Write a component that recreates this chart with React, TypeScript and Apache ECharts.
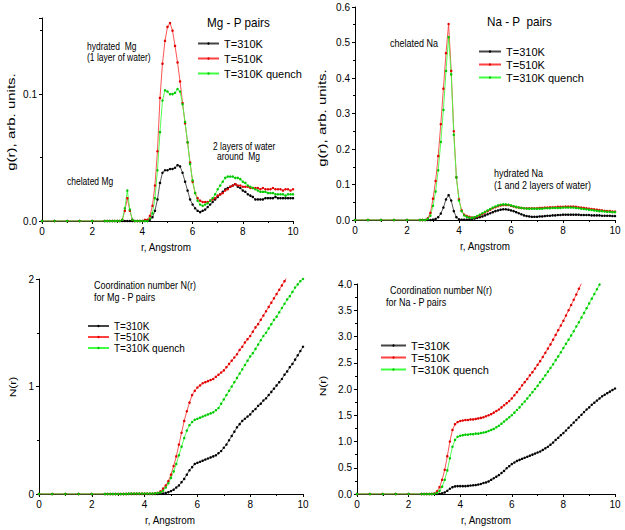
import React, { useEffect, useRef } from "react";
import * as echarts from "echarts";

// r grid (Angstrom)
const R = [
  0, 0.5, 1, 1.5, 2, 2.5,
  2.6, 2.7, 2.8, 2.9, 3.0, 3.1, 3.2, 3.3, 3.4, 3.5,
  3.6, 3.7, 3.8, 3.9, 4.0, 4.1, 4.2, 4.3, 4.4, 4.5,
  4.6, 4.7, 4.8, 4.9, 5.0, 5.1, 5.2, 5.3, 5.4, 5.5,
  5.6, 5.7, 5.8, 5.9, 6.0, 6.1, 6.2, 6.3, 6.4, 6.5,
  6.6, 6.7, 6.8, 6.9, 7.0, 7.1, 7.2, 7.3, 7.4, 7.5,
  7.6, 7.7, 7.8, 7.9, 8.0, 8.1, 8.2, 8.3, 8.4, 8.5,
  8.6, 8.7, 8.8, 8.9, 9.0, 9.1, 9.2, 9.3, 9.4, 9.5,
  9.6, 9.7, 9.8, 9.9, 10.0,
];

const NAMES = ["T=310K", "T=510K", "T=310K quench"];

// Mg - P g(r)
const MG_G_310 = [
  0, 0, 0, 0, 0, 0,
  0, 0, 0, 0, 0, 0, 0, 0, 0, 0,
  0, 0, 0, 0, 0, 0, 0, 0.001, 0.003, 0.008,
  0.017, 0.030, 0.038, 0.040, 0.040, 0.041, 0.041, 0.042, 0.044, 0.043,
  0.038, 0.031, 0.024, 0.017, 0.013, 0.010, 0.008, 0.007, 0.008, 0.009,
  0.011, 0.013, 0.015, 0.017, 0.019, 0.021, 0.023, 0.025, 0.026, 0.027,
  0.028, 0.029, 0.027, 0.026, 0.024, 0.023, 0.021, 0.020, 0.019, 0.017,
  0.017, 0.017, 0.017, 0.018, 0.018, 0.018, 0.018, 0.019, 0.018, 0.018,
  0.018, 0.018, 0.018, 0.018, 0.018,
];
const MG_G_510 = [
  0, 0, 0, 0, 0, 0,
  0, 0, 0, 0, 0, 0, 0.001, 0.008, 0.018, 0.008,
  0.001, 0, 0, 0, 0, 0.001, 0.001, 0.004, 0.012, 0.028,
  0.055, 0.097, 0.124, 0.142, 0.153, 0.156, 0.150, 0.138, 0.125, 0.110,
  0.093, 0.077, 0.062, 0.046, 0.031, 0.022, 0.018, 0.016, 0.015, 0.015,
  0.015, 0.016, 0.017, 0.018, 0.020, 0.021, 0.022, 0.024, 0.025, 0.027,
  0.028, 0.029, 0.028, 0.028, 0.027, 0.027, 0.027, 0.026, 0.026, 0.026,
  0.026, 0.025, 0.026, 0.025, 0.025, 0.025, 0.026, 0.025, 0.025, 0.025,
  0.024, 0.025, 0.025, 0.024, 0.025,
];
const MG_G_Q = [
  0, 0, 0, 0, 0, 0,
  0, 0, 0, 0, 0, 0, 0.001, 0.010, 0.024, 0.009,
  0.001, 0, 0, 0, 0, 0, 0, 0.002, 0.006, 0.018,
  0.040, 0.070, 0.095, 0.103, 0.102, 0.100, 0.100, 0.101, 0.104, 0.102,
  0.092, 0.078, 0.062, 0.045, 0.032, 0.022, 0.016, 0.013, 0.012, 0.013,
  0.014, 0.016, 0.018, 0.021, 0.025, 0.028, 0.031, 0.034, 0.035, 0.035,
  0.035, 0.034, 0.034, 0.033, 0.031, 0.030, 0.028, 0.027, 0.026, 0.025,
  0.024, 0.023, 0.023, 0.023, 0.022, 0.022, 0.022, 0.021, 0.021, 0.021,
  0.021, 0.020, 0.021, 0.021, 0.021,
];

// Na - P g(r)
const NA_G_310 = [
  0, 0, 0, 0, 0, 0,
  0, 0, 0, 0, 0.001, 0.003, 0.008, 0.018, 0.035, 0.058,
  0.070, 0.055, 0.025, 0.008, 0.002, 0.001, 0.001, 0.001, 0.002, 0.003,
  0.004, 0.006, 0.008, 0.010, 0.013, 0.016, 0.019, 0.022, 0.025, 0.027,
  0.029, 0.030, 0.030, 0.029, 0.027, 0.025, 0.022, 0.019, 0.016, 0.013,
  0.011, 0.010, 0.009, 0.009, 0.009, 0.010, 0.010, 0.011, 0.012, 0.012,
  0.013, 0.013, 0.014, 0.014, 0.015, 0.015, 0.015, 0.015, 0.015, 0.015,
  0.015, 0.014, 0.014, 0.014, 0.014, 0.013, 0.013, 0.013, 0.013, 0.012,
  0.012, 0.012, 0.012, 0.011, 0.011,
];
const NA_G_510 = [
  0, 0, 0, 0, 0, 0,
  0, 0, 0.005, 0.02, 0.06, 0.11, 0.18, 0.27, 0.37, 0.47,
  0.552, 0.42, 0.25, 0.12, 0.058, 0.027, 0.015, 0.011, 0.009, 0.007,
  0.008, 0.010, 0.013, 0.017, 0.021, 0.025, 0.029, 0.033, 0.036, 0.039,
  0.041, 0.042, 0.042, 0.042, 0.040, 0.038, 0.036, 0.035, 0.034, 0.033,
  0.033, 0.033, 0.033, 0.033, 0.033, 0.034, 0.034, 0.035, 0.035, 0.036,
  0.036, 0.036, 0.037, 0.037, 0.037, 0.038, 0.038, 0.038, 0.038, 0.037,
  0.036, 0.035, 0.034, 0.033, 0.032, 0.031, 0.030, 0.029, 0.028, 0.027,
  0.026, 0.025, 0.025, 0.024, 0.024,
];
const NA_G_Q = [
  0, 0, 0, 0, 0, 0,
  0, 0, 0.003, 0.012, 0.04, 0.08, 0.14, 0.22, 0.31, 0.42,
  0.515, 0.41, 0.24, 0.12, 0.055, 0.025, 0.013, 0.009, 0.007, 0.006,
  0.008, 0.011, 0.015, 0.019, 0.023, 0.027, 0.031, 0.035, 0.038, 0.041,
  0.043, 0.044, 0.044, 0.043, 0.041, 0.039, 0.037, 0.035, 0.034, 0.033,
  0.032, 0.032, 0.032, 0.032, 0.032, 0.032, 0.032, 0.033, 0.033, 0.033,
  0.034, 0.034, 0.034, 0.034, 0.035, 0.035, 0.035, 0.035, 0.035, 0.034,
  0.033, 0.032, 0.031, 0.030, 0.029, 0.028, 0.027, 0.026, 0.025, 0.025,
  0.024, 0.023, 0.023, 0.022, 0.022,
];

// Mg - P coordination number N(r)
const MG_N_310 = [
  0, 0, 0, 0, 0, 0,
  0, 0, 0, 0, 0, 0, 0, 0, 0, 0,
  0, 0, 0, 0, 0, 0, 0, 0, 0, 0.001,
  0.002, 0.005, 0.01, 0.017, 0.027, 0.04, 0.06, 0.08, 0.11, 0.14,
  0.18, 0.22, 0.25, 0.28, 0.29, 0.30, 0.31, 0.32, 0.33, 0.34,
  0.35, 0.36, 0.38, 0.40, 0.43, 0.46, 0.50, 0.54, 0.58, 0.62,
  0.65, 0.68, 0.70, 0.72, 0.74, 0.77, 0.79, 0.82, 0.84, 0.87,
  0.89, 0.92, 0.95, 0.98, 1.01, 1.04, 1.07, 1.11, 1.14, 1.18,
  1.21, 1.25, 1.29, 1.33, 1.37,
];
const MG_N_510 = [
  0, 0, 0, 0, 0, 0,
  0, 0, 0, 0, 0, 0, 0, 0.001, 0.002, 0.003,
  0.003, 0.003, 0.003, 0.003, 0.003, 0.003, 0.003, 0.004, 0.006, 0.010,
  0.025, 0.05, 0.08, 0.12, 0.18, 0.26, 0.35, 0.46, 0.57, 0.68,
  0.77, 0.85, 0.92, 0.96, 0.99, 1.01, 1.03, 1.04, 1.05, 1.06,
  1.07, 1.09, 1.11, 1.13, 1.15, 1.18, 1.21, 1.24, 1.27, 1.30,
  1.34, 1.37, 1.41, 1.44, 1.47, 1.51, 1.55, 1.58, 1.62, 1.66,
  1.70, 1.74, 1.78, 1.82, 1.86, 1.90, 1.94, 1.98, 2.02,
];
const MG_N_Q = [
  0, 0, 0, 0, 0, 0,
  0, 0, 0, 0, 0, 0, 0, 0.001, 0.003, 0.004,
  0.004, 0.004, 0.004, 0.004, 0.004, 0.004, 0.004, 0.005, 0.006, 0.009,
  0.015, 0.03, 0.06, 0.10, 0.15, 0.21, 0.28, 0.36, 0.44, 0.52,
  0.59, 0.64, 0.67, 0.69, 0.70, 0.71, 0.72, 0.73, 0.74, 0.75,
  0.76, 0.78, 0.80, 0.84, 0.88, 0.92, 0.96, 1.00, 1.04, 1.08,
  1.12, 1.16, 1.20, 1.24, 1.28, 1.31, 1.35, 1.39, 1.43, 1.47,
  1.50, 1.54, 1.58, 1.62, 1.65, 1.69, 1.73, 1.77, 1.81, 1.84,
  1.88, 1.92, 1.95, 1.98, 2.00,
];

// Na - P coordination number N(r)
const NA_N_310 = [
  0, 0, 0, 0, 0, 0,
  0, 0, 0, 0, 0.001, 0.002, 0.005, 0.012, 0.03, 0.06,
  0.10, 0.13, 0.145, 0.15, 0.15, 0.15, 0.15, 0.155, 0.16, 0.165,
  0.17, 0.18, 0.19, 0.21, 0.22, 0.24, 0.27, 0.30, 0.33, 0.36,
  0.40, 0.44, 0.49, 0.53, 0.57, 0.60, 0.63, 0.65, 0.67, 0.69,
  0.71, 0.73, 0.75, 0.77, 0.79, 0.81, 0.84, 0.87, 0.90, 0.94,
  0.98, 1.03, 1.07, 1.12, 1.16, 1.21, 1.26, 1.31, 1.36, 1.41,
  1.46, 1.51, 1.56, 1.61, 1.65, 1.70, 1.74, 1.78, 1.82, 1.86,
  1.89, 1.92, 1.95, 1.98, 2.01,
];
const NA_N_510 = [
  0, 0, 0, 0, 0, 0,
  0, 0, 0, 0.002, 0.01, 0.05, 0.13, 0.27, 0.46, 0.72,
  1.00, 1.22, 1.33, 1.37, 1.39, 1.40, 1.41, 1.41, 1.42, 1.42,
  1.43, 1.44, 1.45, 1.46, 1.48, 1.50, 1.52, 1.55, 1.58, 1.61,
  1.65, 1.69, 1.73, 1.77, 1.82, 1.88, 1.94, 2.00, 2.07, 2.13,
  2.19, 2.26, 2.32, 2.39, 2.46, 2.53, 2.61, 2.69, 2.77, 2.85,
  2.94, 3.03, 3.12, 3.21, 3.30, 3.40, 3.50, 3.60, 3.70, 3.80,
  3.91, 4.01,
];
const NA_N_Q = [
  0, 0, 0, 0, 0, 0,
  0, 0, 0, 0.001, 0.005, 0.02, 0.06, 0.14, 0.27, 0.45,
  0.68, 0.90, 1.03, 1.09, 1.11, 1.12, 1.13, 1.13, 1.14, 1.14,
  1.15, 1.15, 1.16, 1.17, 1.18, 1.20, 1.22, 1.24, 1.27, 1.30,
  1.34, 1.38, 1.42, 1.46, 1.50, 1.55, 1.60, 1.65, 1.71, 1.76,
  1.82, 1.88, 1.94, 2.00, 2.06, 2.13, 2.19, 2.26, 2.33, 2.40,
  2.47, 2.55, 2.62, 2.70, 2.78, 2.86, 2.94, 3.02, 3.10, 3.19,
  3.27, 3.36, 3.45, 3.54, 3.63, 3.72, 3.81, 3.90, 3.99,
];

const FONT = '"Liberation Sans", Arial, Helvetica, sans-serif';

const STYLES = [
  { line: "#444444", dot: "#000000" },
  { line: "#ff4040", dot: "#e00000" },
  { line: "#40ff40", dot: "#00c800" },
];

function makeSeries(panel: number, ys: number[][]) {
  return ys.map((y, k) => ({
    name: NAMES[k],
    type: "line",
    xAxisIndex: panel,
    yAxisIndex: panel,
    data: y.map((v, i) => [R[i], v]),
    symbol: "circle",
    symbolSize: 2.5,
    showSymbol: true,
    clip: true,
    lineStyle: { color: STYLES[k].line, width: 0.9 },
    itemStyle: { color: STYLES[k].dot, borderWidth: 0 },
    emphasis: { disabled: true },
  }));
}

function xAxis(idx: number) {
  return {
    type: "value",
    gridIndex: idx,
    min: 0,
    max: 10,
    interval: 2,
    axisLine: { lineStyle: { color: "#000", width: 1 } },
    axisTick: { length: 3, lineStyle: { color: "#000" } },
    minorTick: { show: true, splitNumber: 2, length: 2, lineStyle: { color: "#000" } },
    splitLine: { show: false },
    minorSplitLine: { show: false },
    axisLabel: { fontSize: 10, color: "#000", fontFamily: FONT, margin: 5 },
  };
}

function yAxis(idx: number, max: number, interval: number, digits: number) {
  return {
    type: "value",
    gridIndex: idx,
    min: 0,
    max,
    interval,
    axisLine: { show: true, lineStyle: { color: "#000", width: 1 } },
    axisTick: { show: true, length: 3, lineStyle: { color: "#000" } },
    minorTick: { show: true, splitNumber: 2, length: 2, lineStyle: { color: "#000" } },
    splitLine: { show: false },
    minorSplitLine: { show: false },
    axisLabel: {
      fontSize: 10,
      color: "#000",
      fontFamily: FONT,
      margin: 5,
      formatter: (v: number) => {
        const q = v / interval;
        if (Math.abs(q - Math.round(q)) > 1e-6) return "";
        return v.toFixed(digits);
      },
    },
  };
}

function txt(text: string, x: number, y: number, size: number, sx = 1, align = "left") {
  return {
    type: "text",
    x,
    y,
    scaleX: sx,
    silent: true,
    style: {
      text,
      fill: "#000",
      font: `${size}px ${FONT}`,
      align,
      verticalAlign: "middle",
    },
  };
}

function vtxt(text: string, x: number, y: number, size: number, sy = 1) {
  return {
    type: "text",
    x,
    y,
    rotation: Math.PI / 2,
    scaleY: sy,
    silent: true,
    style: {
      text,
      fill: "#000",
      font: `${size}px ${FONT}`,
      align: "center",
      verticalAlign: "middle",
    },
  };
}

function legend(left: number, top: number, itemWidth: number, fontSize: number, gap: number) {
  return {
    orient: "vertical",
    left,
    top,
    padding: 0,
    itemWidth,
    itemHeight: 3,
    itemGap: gap,
    selectedMode: false,
    data: NAMES,
    textStyle: { fontSize, fontFamily: FONT, color: "#000" },
  };
}

export default function App() {
  const ref = useRef<HTMLDivElement>(null);
  useEffect(() => {
    if (!ref.current) return;
    const chart = echarts.init(ref.current, undefined, { renderer: "svg" });
    const option = {
      animation: false,
      backgroundColor: "#fff",
      grid: [
        { left: 42, top: 18, width: 251, height: 203 },
        { left: 355, top: 7, width: 260, height: 213 },
        { left: 39, top: 279, width: 264, height: 215 },
        { left: 357, top: 284, width: 258, height: 210 },
      ],
      xAxis: [xAxis(0), xAxis(1), xAxis(2), xAxis(3)],
      yAxis: [
        yAxis(0, 0.16, 0.1, 1),
        yAxis(1, 0.6, 0.1, 1),
        yAxis(2, 2, 1, 0),
        yAxis(3, 4, 0.5, 1),
      ],
      legend: [
        legend(197, 38, 21, 11, 4),
        legend(478, 46, 22, 11, 2),
        legend(87, 321, 21, 10, 1),
        legend(380, 340, 25, 11, 1),
      ],
      series: [
        ...makeSeries(0, [MG_G_310, MG_G_510, MG_G_Q]),
        ...makeSeries(1, [NA_G_310, NA_G_510, NA_G_Q]),
        ...makeSeries(2, [MG_N_310, MG_N_510, MG_N_Q]),
        ...makeSeries(3, [NA_N_310, NA_N_510, NA_N_Q]),
      ],
      graphic: [
        // panel 1
        txt("Mg - P pairs", 207, 23, 13, 0.9),
        txt("hydrated  Mg", 87, 47, 10, 0.85),
        txt("(1 layer of water)", 87, 58, 10, 0.85),
        txt("chelated Mg", 67, 182, 10, 0.85),
        txt("2 layers of water", 213, 147, 10, 0.85),
        txt("around  Mg", 217, 157, 10, 0.85),
        vtxt("g(r), arb. units.", 11, 122, 15, 0.7),
        txt("r, Angstrom", 166, 247, 11, 0.9, "center"),
        // panel 2
        txt("Na - P  pairs", 487, 22, 13, 0.9),
        txt("chelated Na", 390, 43, 10, 0.9),
        txt("hydrated Na", 494, 173, 10, 0.9),
        txt("(1 and 2 layers of water)", 494, 185, 10, 0.9),
        vtxt("g(r), arb. units.", 322, 118, 15, 0.7),
        txt("r, Angstrom", 485, 246, 11, 0.9, "center"),
        // panel 3
        txt("Coordination number N(r)", 94, 285, 10, 0.9),
        txt("for Mg - P pairs", 94, 297, 10, 0.9),
        vtxt("N(r)", 12, 387, 12, 0.8),
        txt("r, Angstrom", 170, 520, 11, 0.9, "center"),
        // panel 4
        txt("Coordination number N(r)", 390, 290, 10, 0.9),
        txt("for Na - P pairs", 386, 302, 10, 0.9),
        vtxt("N(r)", 322, 386, 12, 0.8),
        txt("r, Angstrom", 486, 520, 11, 0.9, "center"),
      ],
    };
    chart.setOption(option as any);
    return () => chart.dispose();
  }, []);
  return (
    <div
      ref={ref}
      style={{ position: "fixed", left: 0, top: 0, width: 625, height: 530, background: "#fff" }}
    />
  );
}
